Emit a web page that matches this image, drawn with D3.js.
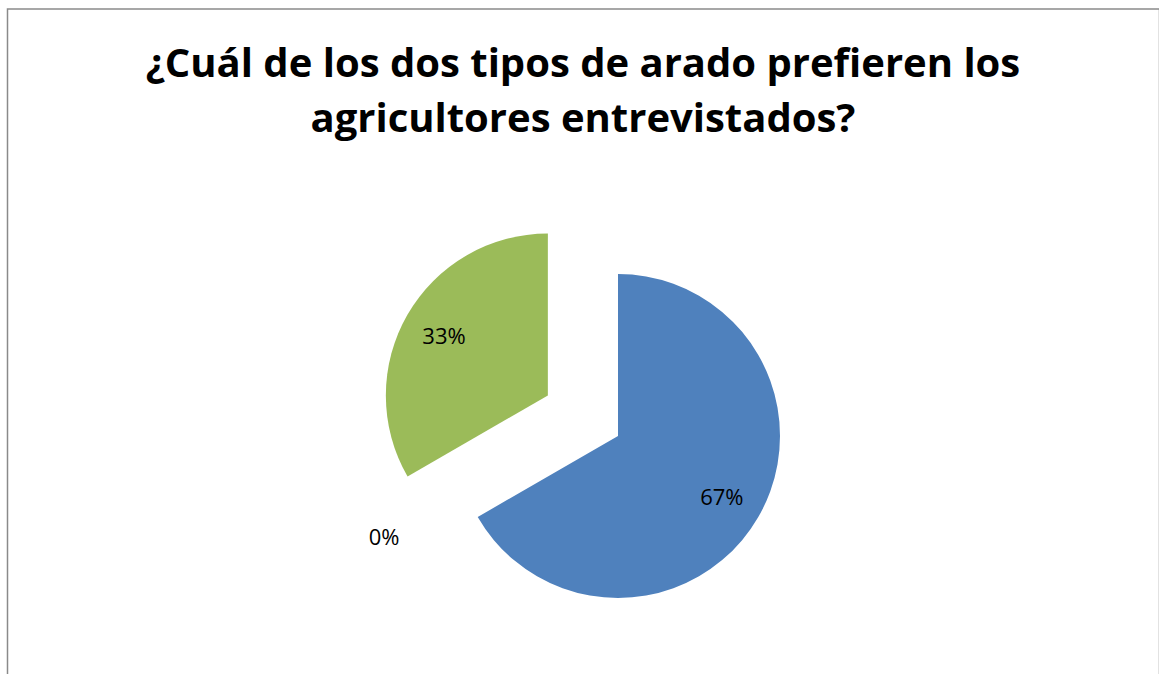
<!DOCTYPE html>
<html>
<head>
<meta charset="utf-8">
<script src="https://cdn.jsdelivr.net/npm/d3@7"></script>
<style>
  body { margin: 0; background: #fff; }
  text { font-family: "Open Sans", "Liberation Sans", sans-serif; }
</style>
</head>
<body>
<div id="chart"></div>
<script>
const titleLines = ['¿Cuál de los dos tipos de arado prefieren los', 'agricultores entrevistados?'];
const categories = ['Tipo 1', 'Tipo 2', 'Tipo 3'];
const values = [2, 0, 1];
const colors = ['#4F81BD', '#C0504D', '#9BBB59'];
const exploded = [0, 81, 81];

const width = 1159;
const height = 674;
const cx = 618, cy = 436, radius = 162;

const svg = d3.select('#chart').append('svg')
  .attr('width', width)
  .attr('height', height);

// chart area border (right edge falls just past the frame)
svg.append('rect')
  .attr('x', 7.5)
  .attr('y', 9)
  .attr('width', 1152)
  .attr('height', 700)
  .attr('fill', 'none')
  .attr('stroke', '#8a8a8a')
  .attr('stroke-width', 1.5);

// title
svg.append('g').selectAll('text')
  .data(titleLines)
  .join('text')
  .attr('x', 583)
  .attr('y', (d, i) => 77 + i * 55)
  .attr('text-anchor', 'middle')
  .attr('font-size', 40)
  .attr('font-weight', 'bold')
  .attr('fill', '#000')
  .text(d => d);

const total = d3.sum(values);
const pie = d3.pie().sort(null).value(d => d)(values);
const arc = d3.arc().innerRadius(0).outerRadius(radius);
const labelArc = d3.arc().innerRadius(radius * 0.74).outerRadius(radius * 0.74);

const g = svg.append('g')
  .attr('transform', 'translate(' + cx + ',' + cy + ')');

function offset(d, i) {
  const mid = (d.startAngle + d.endAngle) / 2;
  return [Math.sin(mid) * exploded[i], -Math.cos(mid) * exploded[i]];
}

// slices
g.selectAll('path')
  .data(pie)
  .join('path')
  .attr('transform', (d, i) => 'translate(' + offset(d, i) + ')')
  .attr('d', arc)
  .attr('fill', (d, i) => colors[i]);

// labels
g.selectAll('text.label')
  .data(pie)
  .join('text')
  .attr('class', 'label')
  .attr('transform', (d, i) => {
    const o = offset(d, i);
    let p = labelArc.centroid(d);
    if (d.value === 0) {
      // empty slice: label pushed outside the pie
      const a = d.startAngle + 0.12;
      p = [Math.sin(a) * radius * 1.57, -Math.cos(a) * radius * 1.57];
      return 'translate(' + p + ')';
    }
    return 'translate(' + [p[0] + o[0], p[1] + o[1]] + ')';
  })
  .attr('text-anchor', 'middle')
  .attr('dy', '0.4em')
  .attr('font-size', 22)
  .attr('fill', '#000')
  .text(d => Math.round(d.value / total * 100) + '%');
</script>
</body>
</html>
